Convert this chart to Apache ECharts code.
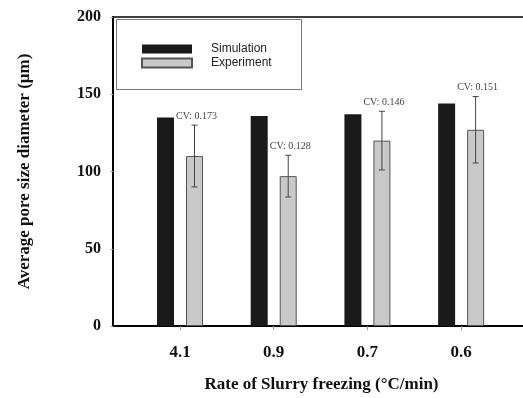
<!DOCTYPE html>
<html>
<head>
<meta charset="utf-8">
<style>
  html, body { margin: 0; padding: 0; background: #fff; }
  #chart { width: 523px; height: 398px; }
</style>
<script src="https://cdn.jsdelivr.net/npm/echarts@6/dist/echarts.min.js"></script>
</head>
<body>
<div id="chart"></div>
<script>
// Freezing rate groups (°C/min)
const categories = ['4.1', '0.9', '0.7', '0.6'];
// Average pore size diameter (µm)
const simulation = [135, 136, 137, 144];
const experiment = [110, 97, 120, 127];
// Experimental spread (± µm) and coefficient of variation labels
const experimentErr = [20, 13.5, 19, 21.5];
const cvLabels = ['CV: 0.173', 'CV: 0.128', 'CV: 0.146', 'CV: 0.151'];
const yTicks = [0, 50, 100, 150, 200];

const BAR_W = 17;
const BAR_GAP = 12;
const SERIF = '"Liberation Serif", "Times New Roman", serif';
const SANS = '"Liberation Sans", Arial, sans-serif';

const positions = categories.map((_, i) => i + 1);
const simData = simulation.map((v, i) => [positions[i], v]);
const expData = experiment.map((v, i) => [positions[i], v]);
const errData = experiment.map((v, i) => [positions[i], v, experimentErr[i]]);

const chart = echarts.init(document.getElementById('chart'), null, { renderer: 'canvas' });

chart.setOption({
  animation: false,
  backgroundColor: '#fff',
  grid: {
    left: 113, top: 17, right: -7, bottom: 72,
    outerBoundsMode: 'none',
    show: true, borderColor: '#000', borderWidth: 1.5, backgroundColor: 'transparent'
  },
  legend: {
    orient: 'vertical',
    left: 136, top: 38,
    itemWidth: 50, itemHeight: 9, itemGap: 2,
    icon: 'rect',
    selectedMode: false,
    textStyle: { fontFamily: SANS, fontSize: 12, color: '#222', padding: [0, 0, 0, 14] },
    data: ['Simulation', 'Experiment']
  },
  xAxis: {
    type: 'value',
    min: 0.285, max: 4.735,
    splitLine: { show: false },
    axisLine: { onZero: false, lineStyle: { color: '#000', width: 2 } },
    axisTick: { customValues: positions, length: 4, lineStyle: { color: '#999' } },
    axisLabel: {
      customValues: positions,
      formatter: v => categories[Math.round(v) - 1] || '',
      fontFamily: SERIF, fontWeight: 'bold', fontSize: 17, color: '#111', margin: 18
    },
    name: 'Rate of Slurry freezing (°C/min)',
    nameLocation: 'middle', nameGap: 50,
    nameTextStyle: { fontFamily: SERIF, fontWeight: 'bold', fontSize: 17, color: '#111' }
  },
  yAxis: {
    type: 'value',
    min: yTicks[0], max: yTicks[yTicks.length - 1], interval: 50,
    splitLine: { show: false },
    axisLine: { show: true, lineStyle: { color: '#000', width: 2 } },
    axisTick: { show: true, length: 3, lineStyle: { color: '#aaa' } },
    axisLabel: { fontFamily: SERIF, fontWeight: 'bold', fontSize: 16, color: '#111', margin: 12 },
    name: 'Average pore size diameter (μm)',
    nameLocation: 'middle', nameGap: 80, nameRotate: 90,
    nameTextStyle: { fontFamily: SERIF, fontWeight: 'bold', fontSize: 17, color: '#111' }
  },
  graphic: [{
    type: 'rect', z: 0,
    shape: { x: 116.5, y: 19.5, width: 185, height: 70 },
    style: { fill: '#fff', stroke: '#777', lineWidth: 1 }
  }],
  series: [
    {
      name: 'Simulation', type: 'bar', data: simData,
      barWidth: BAR_W, barGap: (BAR_GAP / BAR_W * 100).toFixed(1) + '%',
      itemStyle: { color: '#1a1a1a' }, z: 2
    },
    {
      name: 'Experiment', type: 'bar', data: expData,
      barWidth: BAR_W,
      itemStyle: { color: '#c9c9c9', borderColor: '#555', borderWidth: 1 }, z: 2
    },
    {
      name: 'spread', type: 'custom', data: errData, z: 3,
      renderItem: (params, api) => {
        const x = api.value(0), y = api.value(1), e = api.value(2);
        const cx = api.coord([x, y])[0] + (BAR_W + BAR_GAP) / 2;
        const top = api.coord([x, y + e])[1];
        const bot = api.coord([x, y - e])[1];
        const stroke = { stroke: '#444', lineWidth: 1 };
        return {
          type: 'group',
          children: [
            { type: 'line', shape: { x1: cx, y1: top, x2: cx, y2: bot }, style: stroke },
            { type: 'line', shape: { x1: cx - 3, y1: top, x2: cx + 3, y2: top }, style: stroke },
            { type: 'line', shape: { x1: cx - 3, y1: bot, x2: cx + 3, y2: bot }, style: stroke },
            {
              type: 'text',
              style: {
                x: cx + 2, y: top - 4,
                text: cvLabels[params.dataIndex],
                align: 'center', verticalAlign: 'bottom',
                font: '10px ' + SERIF, fill: '#444'
              }
            }
          ]
        };
      }
    }
  ]
});
</script>
</body>
</html>
